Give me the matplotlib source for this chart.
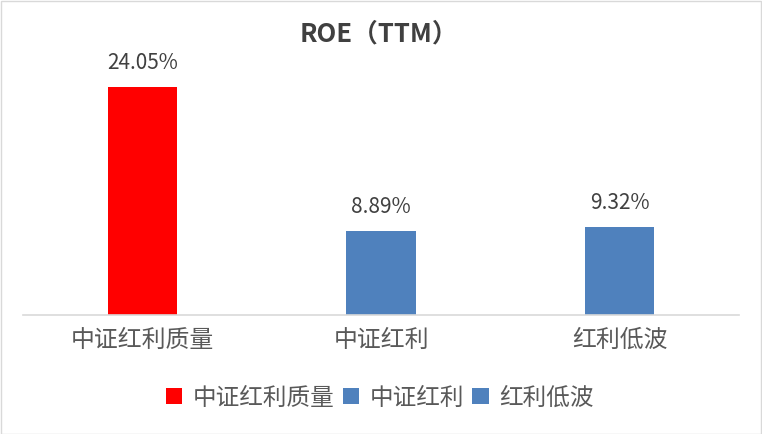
import matplotlib
matplotlib.use("Agg")
import matplotlib.pyplot as plt
from matplotlib.patches import Rectangle

categories = ["中证红利质量", "中证红利", "红利低波"]
values = [24.05, 8.89, 9.32]
colors = ["#FF0000", "#4F81BD", "#4F81BD"]
title = "ROE（TTM）"

plt.rcParams['font.family'] = ['Noto Sans CJK SC', 'DejaVu Sans']

W, H = 762, 434
fig = plt.figure(figsize=(W / 100, H / 100), dpi=100)
fig.patch.set_facecolor("white")

ax_left, ax_right = 23 / W, 739 / W
ax_bottom = 1 - 315 / H
ymax = 28.0
ax_h = ymax * (228 / 24.05) / H
ax = fig.add_axes([ax_left, ax_bottom, ax_right - ax_left, ax_h])

x = list(range(len(categories)))
for i, (c, v, col) in enumerate(zip(categories, values, colors)):
    ax.bar(i, v, width=0.29, color=col, label=c, zorder=2)
    ax.annotate(f"{v:.2f}%", xy=(i, v), xytext=(0, 13), textcoords="offset points",
                ha="center", va="baseline", fontsize=15, color="#404040")

ax.set_xlim(-0.5, len(categories) - 0.5)
ax.set_ylim(0, ymax)
ax.set_xticks(x)
ax.set_xticklabels(categories, fontsize=17.2, color="#595959")
ax.tick_params(axis="x", length=0, pad=10)
ax.set_yticks([])
for s in ["top", "left", "right"]:
    ax.spines[s].set_visible(False)
ax.spines["bottom"].set_color("#D9D9D9")
ax.spines["bottom"].set_linewidth(1.2)
ax.set_facecolor("none")

fig.text(379 / W, 1 - 34 / H, title, ha="center", va="center", fontsize=18.5,
         fontweight="bold", color="#404040")

leg = fig.legend(loc="center", bbox_to_anchor=(380 / W, 1 - 398 / H), ncol=3,
                 frameon=False, fontsize=17, handlelength=0.68, handleheight=0.68,
                 handletextpad=0.45, columnspacing=0.35, borderaxespad=0)
for t in leg.get_texts():
    t.set_color("#595959")

fig.patches.append(Rectangle((0.5 / W, 0.5 / H), (W - 1.5) / W, (H - 1.5) / H,
                             transform=fig.transFigure, fill=False,
                             edgecolor="#D9D9D9", linewidth=1.0))

fig.savefig("out.png", dpi=100, facecolor="white")
